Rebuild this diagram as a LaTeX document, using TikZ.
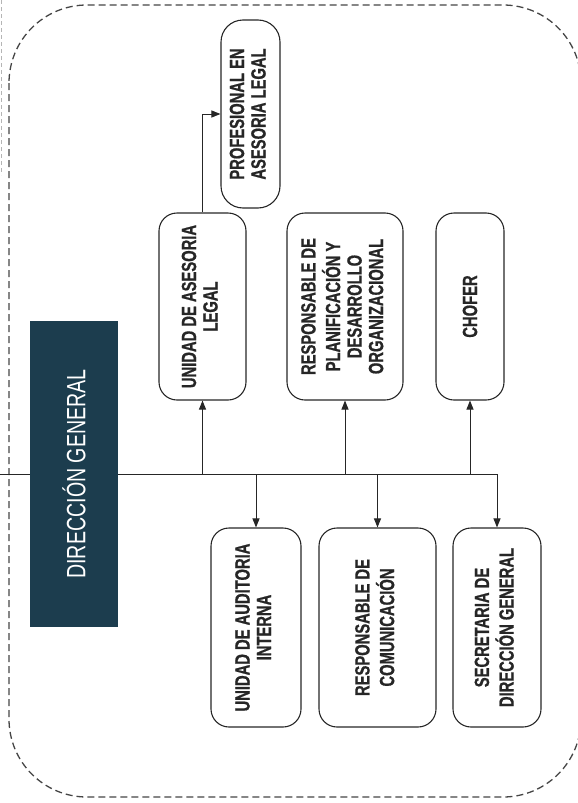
\documentclass[tikz,border=0pt]{standalone}
\usepackage{fontspec}
\newfontfamily\nfont[FakeStretch=0.72,BoldFeatures={FakeBold=0.8}]{Liberation Sans}
\newfontfamily\dgfont[FakeStretch=0.74]{Liberation Sans}
\usetikzlibrary{arrows.meta}
\definecolor{dgblue}{HTML}{1C3D4E}
\definecolor{ink}{HTML}{262626}
\definecolor{dashc}{HTML}{454545}
\begin{document}
\begin{tikzpicture}[x=1pt,y=-1pt,
  unit/.style={draw=ink, line width=1.1pt, rounded corners=18pt, inner sep=0pt,
    text=ink, font=\nfont\bfseries\fontsize{20.5}{21.5}\selectfont},
  arr/.style={draw=ink, line width=1pt, -{Triangle[length=9pt,width=7pt]}},
  ln/.style={draw=ink, line width=1pt}]
\useasboundingbox (0,0) rectangle (578,803);
% outer dashed frame
\draw[dashc, line width=1.3pt, dash pattern=on 7pt off 4pt, rounded corners=78pt]
  (9,5) rectangle (581,797);
\draw[dashc!40, line width=1pt, dash pattern=on 4pt off 3pt] (1,0) -- (1,175);
% nodes
\node[fill=dgblue, minimum width=88pt, minimum height=306pt, inner sep=0pt,
  text=white, font=\dgfont\fontsize{26.5}{28}\selectfont] (dg) at (74,474)
  {\rotatebox{90}{DIRECCIÓN GENERAL}};
\node[unit, minimum width=87pt, minimum height=187pt] (ases) at (202.5,306.5)
  {\rotatebox{90}{\begin{tabular}{@{}c@{}}UNIDAD DE ASESORIA\\LEGAL\end{tabular}}};
\node[unit, minimum width=116pt, minimum height=187pt] (plan) at (345,306.5)
  {\rotatebox{90}{\begin{tabular}{@{}c@{}}RESPONSABLE DE\\PLANIFICACIÓN Y\\DESARROLLO\\ORGANIZACIONAL\end{tabular}}};
\node[unit, minimum width=68pt, minimum height=187pt] (chof) at (470,306.5)
  {\rotatebox{90}{CHOFER}};
\node[unit, rounded corners=22pt, minimum width=59pt, minimum height=188pt] (prof) at (250.5,114)
  {\rotatebox{90}{\begin{tabular}{@{}c@{}}PROFESIONAL EN\\ASESORIA LEGAL\end{tabular}}};
\node[unit, minimum width=90pt, minimum height=199pt] (audit) at (256,627.5)
  {\rotatebox{90}{\begin{tabular}{@{}c@{}}UNIDAD DE AUDITORIA\\INTERNA\end{tabular}}};
\node[unit, minimum width=117pt, minimum height=199pt] (comu) at (377.5,627.5)
  {\rotatebox{90}{\begin{tabular}{@{}c@{}}RESPONSABLE DE\\COMUNICACIÓN\end{tabular}}};
\node[unit, minimum width=88pt, minimum height=199pt] (secr) at (497,627.5)
  {\rotatebox{90}{\begin{tabular}{@{}c@{}}SECRETARIA DE\\DIRECCIÓN GENERAL\end{tabular}}};
% connectors
\coordinate (lend) at (0,474);
\draw[ln] (lend) -- (dg.west);
\draw[ln] (dg.east) -- (secr.north |- dg.east);
\draw[arr] (ases.south |- dg.east) -- (ases.south);
\draw[arr] (plan.south |- dg.east) -- (plan.south);
\draw[arr] (chof.south |- dg.east) -- (chof.south);
\draw[arr] (audit.north |- dg.east) -- (audit.north);
\draw[arr] (comu.north |- dg.east) -- (comu.north);
\draw[arr] (secr.north |- dg.east) -- (secr.north);
\draw[arr] (ases.north) |- (prof.west);
\end{tikzpicture}
\end{document}
